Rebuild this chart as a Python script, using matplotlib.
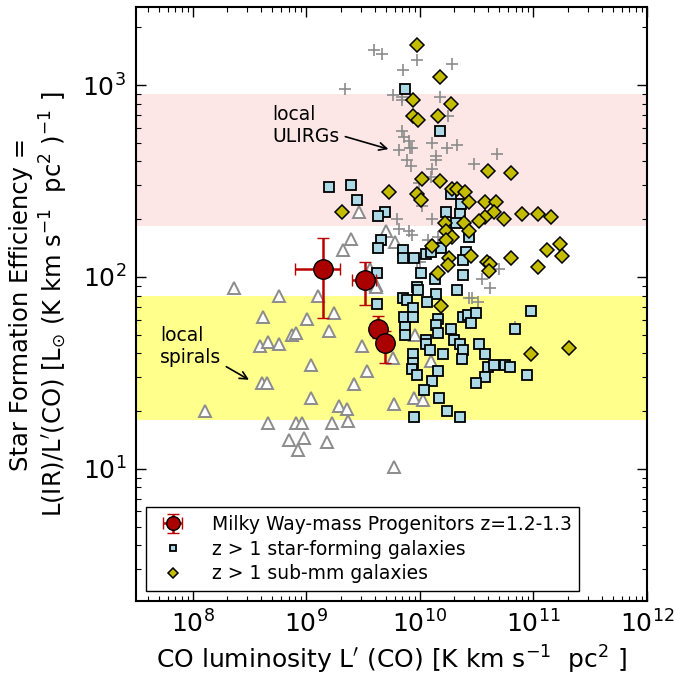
import numpy as np
import matplotlib
matplotlib.use('Agg')
import matplotlib.pyplot as plt

# --- data (log10 values) ---
# local ULIRGs (grey crosses)
ulirg_logL = [9.60, 9.67, 9.97, 10.28, 9.85, 9.34, 9.76, 9.84, 9.84, 10.18, 10.25,
              9.84, 9.86, 9.90, 10.11, 10.33, 10.24, 9.91, 9.82, 9.93, 10.14, 10.14,
              9.89, 9.92, 10.48, 10.68, 10.11, 10.10, 9.99, 10.02, 9.80, 10.11, 9.82,
              9.90, 9.93, 10.07, 10.16, 9.97, 10.70, 10.55, 10.62, 10.46, 10.43, 10.51,
              10.84, 10.00]
ulirg_logSFE = [3.18, 3.16, 3.13, 3.11, 3.08, 2.98, 2.95, 2.94, 2.92, 2.94, 2.84,
                2.76, 2.73, 2.71, 2.70, 2.69, 2.67, 2.67, 2.66, 2.67, 2.63, 2.61,
                2.61, 2.58, 2.59, 2.64, 2.56, 2.52, 2.49, 2.37, 2.30, 2.30, 2.25,
                2.24, 2.22, 2.19, 2.21, 2.08, 2.04, 1.99, 1.94, 1.89, 1.89, 1.87,
                1.74, 2.08]

# local spirals (open triangles)
spiral_logL = [9.46, 9.70, 9.39, 9.32, 9.78, 8.36, 8.76, 9.10, 9.56, 9.61, 8.62,
               9.01, 9.24, 9.20, 8.87, 8.91, 8.59, 8.66, 8.76, 9.49, 9.04, 9.53,
               9.76, 9.96, 10.10, 8.61, 8.65, 9.42, 9.04, 9.29, 9.36, 8.11, 9.77,
               9.95, 10.03, 8.66, 8.91, 8.96, 9.23, 9.37, 8.85, 8.98, 9.18, 8.93,
               9.77, 9.61]
spiral_logSFE = [2.34, 2.24, 2.20, 2.14, 2.18, 1.94, 1.90, 1.90, 2.04, 1.96, 1.79,
                 1.78, 1.81, 1.72, 1.70, 1.71, 1.64, 1.66, 1.65, 1.64, 1.54, 1.51,
                 1.58, 1.70, 1.56, 1.45, 1.45, 1.44, 1.37, 1.33, 1.31, 1.30, 1.34,
                 1.37, 1.36, 1.24, 1.24, 1.24, 1.24, 1.25, 1.15, 1.16, 1.14, 1.10,
                 1.01, 1.95]

# z > 1 star-forming galaxies (squares)
sfg_logL = [9.87, 10.18, 9.20, 9.39, 9.45, 9.69, 9.63, 10.27, 10.36, 10.23, 10.35,
            10.32, 10.43, 10.19, 9.66, 9.63, 9.85, 9.85, 9.95, 10.05, 10.10, 10.41,
            10.38, 10.01, 10.13, 10.38, 9.62, 9.97, 9.98, 10.14, 10.33, 9.85, 9.89,
            10.06, 9.62, 9.94, 9.86, 9.94, 10.16, 10.38, 10.42, 10.49, 10.98, 10.14,
            9.87, 9.87, 10.16, 10.27, 10.45, 10.84, 10.05, 10.05, 10.30, 10.35, 10.09,
            10.38, 10.52, 10.20, 9.94, 10.57, 9.94, 10.37, 9.93, 10.16, 9.97, 10.60,
            10.65, 10.75, 10.79, 10.11, 10.57, 10.49, 10.94, 10.04, 10.17, 10.24,
            9.95, 10.35]
sfg_logSFE = [2.98, 2.76, 2.47, 2.48, 2.40, 2.34, 2.32, 2.43, 2.38, 2.34, 2.33,
              2.28, 2.21, 2.15, 2.19, 2.15, 2.14, 2.10, 2.10, 2.12, 2.13, 2.13,
              2.09, 2.02, 1.99, 2.01, 2.02, 1.95, 1.93, 1.91, 1.93, 1.89, 1.88,
              1.87, 1.86, 1.84, 1.79, 1.79, 1.78, 1.79, 1.80, 1.81, 1.82, 1.75,
              1.74, 1.70, 1.71, 1.73, 1.76, 1.73, 1.67, 1.65, 1.67, 1.65, 1.62,
              1.62, 1.65, 1.60, 1.60, 1.60, 1.55, 1.57, 1.52, 1.51, 1.49, 1.53,
              1.54, 1.54, 1.53, 1.46, 1.48, 1.45, 1.49, 1.41, 1.37, 1.30,
              1.27, 1.27]

# z > 1 sub-mm galaxies (diamonds)
smg_logL = [9.97, 10.18, 9.94, 10.27, 9.94, 9.98, 10.16, 10.60, 10.80, 10.02, 10.18,
            9.73, 9.97, 10.01, 10.28, 10.33, 10.40, 10.43, 10.57, 10.67, 10.65, 9.31,
            10.90, 11.04, 11.15, 10.74, 10.57, 10.52, 10.22, 10.39, 10.43, 10.23,
            10.28, 10.23, 10.11, 11.23, 11.12, 11.25, 10.80, 10.26, 10.25, 10.59,
            10.62, 10.61, 11.04, 10.45, 10.16, 10.19, 10.98, 11.31]
smg_logSFE = [3.21, 3.04, 2.92, 2.90, 2.84, 2.82, 2.84, 2.55, 2.54, 2.51, 2.50,
              2.44, 2.43, 2.40, 2.46, 2.46, 2.44, 2.39, 2.39, 2.39, 2.34, 2.34,
              2.33, 2.33, 2.31, 2.30, 2.31, 2.29, 2.28, 2.28, 2.24, 2.24,
              2.21, 2.19, 2.16, 2.17, 2.14, 2.11, 2.10, 2.10, 2.06, 2.08,
              2.07, 2.03, 2.05, 2.11, 2.02, 1.85, 1.60, 1.63]

# Milky Way-mass progenitors z=1.2-1.3 (red circles with error bars)
mw_logL = [9.145, 9.517, 9.634, 9.692]
mw_logL_lo = [8.896, 9.400, 9.605, 9.665]
mw_logL_hi = [9.300, 9.617, 9.665, 9.720]
mw_logSFE = [2.043, 1.983, 1.730, 1.657]
mw_logSFE_lo = [1.788, 1.854, 1.680, 1.553]
mw_logSFE_hi = [2.202, 2.078, 1.797, 1.720]

# bands
ulirg_band = (185, 900)
spiral_band = (18, 80)

# --- figure ---
plt.rcParams['font.family'] = 'DejaVu Sans'
plt.rcParams['mathtext.fontset'] = 'dejavusans'

fig = plt.figure(figsize=(6.74, 6.77), dpi=100)
ax = fig.add_axes([0.2018, 0.1123, 0.7582, 0.8774])
ax.set_xscale('log')
ax.set_yscale('log')
ax.set_xlim(10**7.5, 1e12)
ax.set_ylim(2.05, 2550)

ax.axhspan(*ulirg_band, color='#fce6e6', lw=0, zorder=0)
ax.axhspan(*spiral_band, color='#ffff8c', lw=0, zorder=0)

ax.plot(10**np.array(spiral_logL), 10**np.array(spiral_logSFE), ls='none', marker='^',
        ms=8, mfc='white', mec='#8c8c8c', mew=1.4, zorder=2)
ax.plot(10**np.array(ulirg_logL), 10**np.array(ulirg_logSFE), ls='none', marker='+',
        ms=9, mec='#8c8c8c', mew=1.2, zorder=2)
sq, = ax.plot(10**np.array(sfg_logL), 10**np.array(sfg_logSFE), ls='none', marker='s',
              ms=7, mfc='#add8e6', mec='black', mew=1.3, zorder=3,
              label='z > 1 star-forming galaxies')
dm, = ax.plot(10**np.array(smg_logL), 10**np.array(smg_logSFE), ls='none', marker='D',
              ms=7, mfc='#c4bc00', mec='black', mew=1.1, zorder=4,
              label='z > 1 sub-mm galaxies')

mx = 10**np.array(mw_logL)
my = 10**np.array(mw_logSFE)
xerr = [mx - 10**np.array(mw_logL_lo), 10**np.array(mw_logL_hi) - mx]
yerr = [my - 10**np.array(mw_logSFE_lo), 10**np.array(mw_logSFE_hi) - my]
eb = ax.errorbar(mx, my, xerr=xerr, yerr=yerr, fmt='o', ms=14, mfc='#aa0000', mec='black',
                 mew=1.0, ecolor='#bb0000', elinewidth=1.8, capsize=4, capthick=1.8,
                 zorder=5, label='Milky Way-mass Progenitors z=1.2-1.3')

# annotations
ax.annotate('local\nULIRGs', xy=(10**9.746, 10**2.662), xytext=(10**8.703, 10**2.79),
            fontsize=13.5, va='center', ha='left',
            arrowprops=dict(arrowstyle='->', color='black', lw=1.2))
ax.annotate('local\nspirals', xy=(10**8.516, 10**1.457), xytext=(10**7.71, 10**1.64),
            fontsize=13.5, va='center', ha='left',
            arrowprops=dict(arrowstyle='->', color='black', lw=1.2))

ax.set_xlabel(r"CO luminosity L$^{\prime}$ (CO) [K km s$^{-1}$  pc$^{2}$ ]", fontsize=18)
ax.set_ylabel("Star Formation Efficiency =\n"
              r"L(IR)/L$^{\prime}$(CO) [L$_{\odot}$ (K km s$^{-1}$  pc$^{2}$ )$^{-1}$ ]",
              fontsize=17.5, labelpad=9)

ax.tick_params(which='both', direction='in', top=True, right=True)
ax.tick_params(which='major', length=7, width=1.0, labelsize=18, pad=7)
ax.tick_params(which='minor', length=3.5, width=0.8)
for s in ax.spines.values():
    s.set_linewidth(1.5)

leg = ax.legend(handles=[eb, sq, dm], loc='lower left', fontsize=13.5, numpoints=1,
                markerscale=0.7, fancybox=False, edgecolor='black', framealpha=1,
                borderaxespad=0.55, handletextpad=1.1, labelspacing=0.3)
leg.get_frame().set_linewidth(1.0)

fig.savefig('out.png', dpi=100)
